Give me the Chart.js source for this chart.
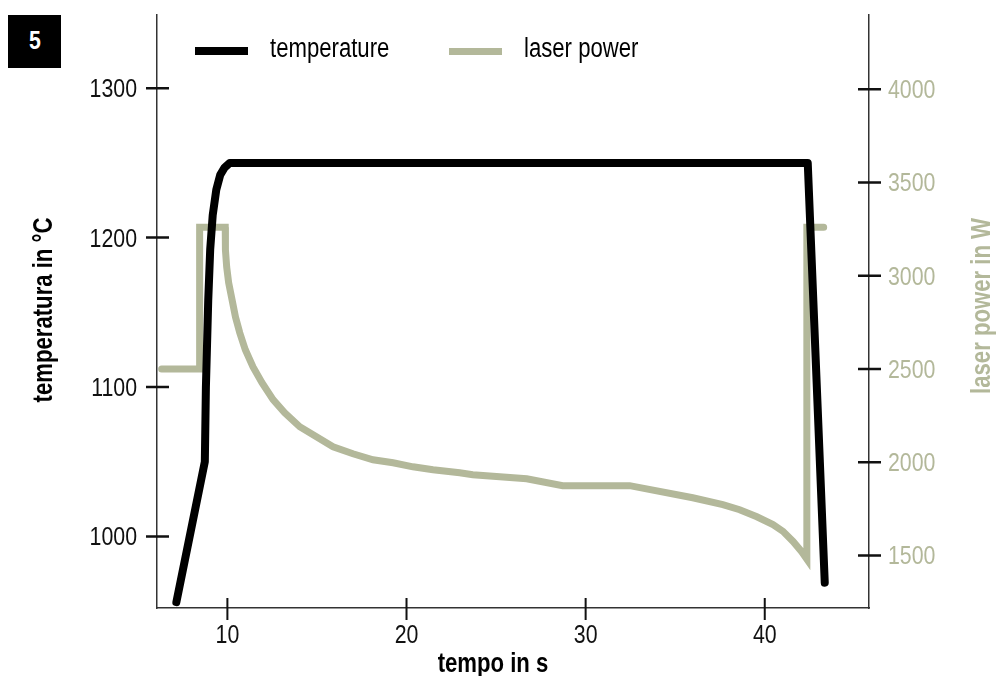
<!DOCTYPE html>
<html>
<head>
<meta charset="utf-8">
<title>temperatura e laser power</title>
<script src="https://cdn.jsdelivr.net/npm/chart.js@4.4.1/dist/chart.umd.min.js"></script>
<style>
  html, body { margin: 0; padding: 0; background: #fff; }
  #wrap { position: relative; width: 997px; height: 676px; }
  #badge {
    position: absolute; left: 8px; top: 15px; width: 53px; height: 53px;
    background: #000; color: #fff;
    font: bold 25px "Liberation Sans", Arial, sans-serif;
    display: flex; align-items: center; justify-content: center;
  }
  #badge span { display: inline-block; transform: scaleX(0.85); margin-top: -2px; }
</style>
</head>
<body>
<div id="wrap">
  <canvas id="laserChart" width="997" height="676"></canvas>
  <div id="badge"><span>5</span></div>
</div>
<script>
// temperatura (asse sinistro)
const tempTime = [7.15, 8.74, 8.8, 8.93, 9.04, 9.18, 9.38, 9.6, 9.85, 10.13, 42.4, 43.35];
const tempValue = [956, 1050, 1100, 1158, 1192, 1215, 1232, 1242, 1247, 1250, 1250, 969];

// potenza laser (asse destro)
const powerTime = [6.33, 8.45, 8.45, 9.88, 9.89, 9.96, 10.07, 10.26, 10.45, 10.69, 11.0, 11.43, 11.93,
  12.55, 13.2, 14.04, 14.97, 15.9, 17.01, 18.13, 19.25, 20.36, 21.48, 22.97, 23.7, 26.71, 28.72,
  32.46, 35.98, 37.66, 38.6, 39.56, 40.46, 41.02, 41.58, 42.05, 42.35, 42.35, 43.29];
const powerValue = [2500, 2500, 3260, 3260, 3139, 3047, 2962, 2871, 2779, 2694, 2603, 2511, 2426,
  2335, 2265, 2190, 2136, 2083, 2045, 2013, 1997, 1975, 1959, 1943, 1933, 1911, 1874,
  1874, 1809, 1772, 1745, 1707, 1665, 1629, 1575, 1521, 1480, 3260, 3260];

// etichette degli assi
const timeTicks = [10, 20, 30, 40];
const tempTicks = [1000, 1100, 1200, 1300];
const powerTicks = [1500, 2000, 2500, 3000, 3500, 4000];

const FONT = '"Liberation Sans", Arial, sans-serif';
const NARROW = 0.82; // il font originale è condensato
const SAGE = '#b3b89a';

function toPoints(xs, ys) {
  return xs.map((x, i) => ({ x: x, y: ys[i] }));
}

// testo stretto orizzontalmente, eventualmente ruotato
function narrowText(ctx, text, x, y, align, rotate) {
  ctx.save();
  ctx.translate(x, y);
  if (rotate) ctx.rotate(rotate);
  ctx.scale(NARROW, 1);
  ctx.textAlign = align;
  ctx.textBaseline = 'alphabetic';
  ctx.fillText(text, 0, 0);
  ctx.restore();
}

// tacche che attraversano gli assi, etichette, titoli e legenda
const decorPlugin = {
  id: 'decor',
  afterDraw(chart) {
    const ctx = chart.ctx;
    const { x, yTemp, yPower } = chart.scales;
    const area = chart.chartArea;
    ctx.save();
    ctx.strokeStyle = '#111';
    ctx.lineWidth = 2.5;
    ctx.beginPath();
    tempTicks.forEach(v => {
      const py = yTemp.getPixelForValue(v);
      ctx.moveTo(area.left - 11, py);
      ctx.lineTo(area.left + 12, py);
    });
    powerTicks.forEach(v => {
      const py = yPower.getPixelForValue(v);
      ctx.moveTo(area.right - 11, py);
      ctx.lineTo(area.right + 12, py);
    });
    ctx.stroke();
    ctx.lineWidth = 2;
    ctx.beginPath();
    timeTicks.forEach(v => {
      const px = x.getPixelForValue(v);
      ctx.moveTo(px, area.bottom - 10);
      ctx.lineTo(px, area.bottom + 12);
    });
    ctx.stroke();

    // etichette delle tacche
    ctx.font = '26px ' + FONT;
    ctx.fillStyle = '#111';
    tempTicks.forEach(v => {
      narrowText(ctx, String(v), area.left - 20, yTemp.getPixelForValue(v) + 9, 'right');
    });
    timeTicks.forEach(v => {
      narrowText(ctx, String(v), x.getPixelForValue(v), 643, 'center');
    });
    ctx.fillStyle = SAGE;
    powerTicks.forEach(v => {
      narrowText(ctx, String(v), area.right + 19, yPower.getPixelForValue(v) + 9, 'left');
    });

    // titoli degli assi
    ctx.font = 'bold 27px ' + FONT;
    ctx.fillStyle = '#000';
    narrowText(ctx, 'tempo in s', 493, 672, 'center');
    narrowText(ctx, 'temperatura in °C', 52, 310, 'center', -Math.PI / 2);
    ctx.fillStyle = SAGE;
    narrowText(ctx, 'laser power in W', 990, 306, 'center', -Math.PI / 2);

    // legenda
    ctx.font = '27px ' + FONT;
    const legendX = [195, 449];
    chart.data.datasets.forEach((ds, i) => {
      ctx.fillStyle = ds.borderColor;
      ctx.fillRect(legendX[i], i === 0 ? 47 : 48, 53, i === 0 ? 8 : 7);
      ctx.fillStyle = '#000';
      narrowText(ctx, ds.label, legendX[i] + 75, 57, 'left');
    });
    ctx.restore();
  }
};

function noPadding(s) {
  s.paddingTop = 0;
  s.paddingBottom = 0;
  s.paddingLeft = 0;
  s.paddingRight = 0;
}

const ctx = document.getElementById('laserChart').getContext('2d');
const laserChart = new Chart(ctx, {
  type: 'line',
  data: {
    datasets: [
      {
        label: 'temperature',
        data: toPoints(tempTime, tempValue),
        yAxisID: 'yTemp',
        borderColor: '#000',
        borderWidth: 8,
        borderCapStyle: 'round',
        borderJoinStyle: 'round',
        pointRadius: 0,
        tension: 0
      },
      {
        label: 'laser power',
        data: toPoints(powerTime, powerValue),
        yAxisID: 'yPower',
        borderColor: SAGE,
        borderWidth: 7,
        borderCapStyle: 'round',
        borderJoinStyle: 'miter',
        pointRadius: 0,
        tension: 0
      }
    ]
  },
  options: {
    responsive: false,
    animation: false,
    devicePixelRatio: 1,
    layout: { padding: { top: 15, left: 0, right: 0, bottom: 0 } },
    plugins: {
      legend: { display: false },
      tooltip: { enabled: false }
    },
    scales: {
      x: {
        type: 'linear',
        position: 'bottom',
        min: 6.07,
        max: 45.82,
        afterFit: s => { noPadding(s); s.height = 68; },
        grid: { display: false, drawTicks: false },
        border: { display: true, color: '#333', width: 1.5 },
        ticks: { display: false }
      },
      yTemp: {
        type: 'linear',
        position: 'left',
        min: 952.1,
        max: 1349,
        afterFit: s => { noPadding(s); s.width = 157; },
        grid: { display: false, drawTicks: false },
        border: { display: true, color: '#333', width: 1.5 },
        ticks: { display: false }
      },
      yPower: {
        type: 'linear',
        position: 'right',
        min: 1218,
        max: 4398,
        afterFit: s => { noPadding(s); s.width = 128; },
        grid: { display: false, drawTicks: false },
        border: { display: true, color: '#333', width: 1.5 },
        ticks: { display: false }
      }
    }
  },
  plugins: [decorPlugin]
});
</script>
</body>
</html>
